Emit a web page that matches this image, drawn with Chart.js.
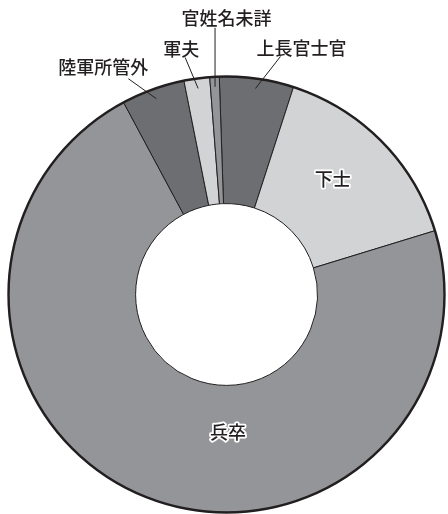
<!DOCTYPE html>
<html>
<head>
<meta charset="utf-8">
<script src="https://cdn.jsdelivr.net/npm/chart.js@4/dist/chart.umd.min.js"></script>
<style>
  html, body { margin: 0; padding: 0; background: #fff; }
  #wrap { width: 448px; height: 514px; }
</style>
</head>
<body>
<div id="wrap"><canvas id="chart"></canvas></div>
<script>
const categories = ['上長官士官', '下士', '兵卒', '陸軍所管外', '軍夫', '官姓名未詳'];
const shares = [5.5, 15.3, 71.9, 4.7, 1.9, 0.7];
const sliceColors = ['#6d6e71', '#d1d3d4', '#939598', '#6d6e71', '#d1d3d4', '#939598'];

// where each label goes: inside the ring, or outside with a leader line
const labelPlacement = [
  { outside: true, line: [25, -32], text: [46, -40] },
  { outside: false, angle: 42.6, radius: 0.72 },
  { outside: false, angle: 179.4, radius: 0.633 },
  { outside: true, line: [-28, -20], text: [-53, -32] },
  { outside: true, line: [-13, -31], text: [-17, -39] },
  { outside: true, line: [0, -59], text: [11.5, -68.5] }
];

const ink = '#231f20';
const labelFont = '500 18px "Noto Sans CJK JP", "Noto Sans", sans-serif';

const ringLabels = {
  id: 'ringLabels',
  afterDatasetsDraw(chart) {
    const ctx = chart.ctx;
    const arcs = chart.getDatasetMeta(0).data;
    const first = arcs[0].getProps(['x', 'y', 'outerRadius'], true);

    // heavier outer rim
    ctx.save();
    ctx.beginPath();
    ctx.arc(first.x, first.y, first.outerRadius, 0, Math.PI * 2);
    ctx.lineWidth = 2.4;
    ctx.strokeStyle = ink;
    ctx.stroke();
    ctx.restore();

    ctx.save();
    ctx.font = labelFont;
    ctx.textAlign = 'center';
    ctx.textBaseline = 'middle';
    ctx.lineJoin = 'round';

    arcs.forEach((arc, i) => {
      const p = arc.getProps(['x', 'y', 'startAngle', 'endAngle', 'outerRadius'], true);
      const place = labelPlacement[i];

      if (place.outside) {
        const mid = (p.startAngle + p.endAngle) / 2;
        const r = p.outerRadius - 10;
        const ax = p.x + Math.cos(mid) * r;
        const ay = p.y + Math.sin(mid) * r;
        ctx.beginPath();
        ctx.moveTo(ax, ay);
        ctx.lineTo(ax + place.line[0], ay + place.line[1]);
        ctx.lineWidth = 1;
        ctx.strokeStyle = ink;
        ctx.stroke();
        ctx.fillStyle = ink;
        ctx.fillText(categories[i], ax + place.text[0], ay + place.text[1]);
      } else {
        const a = (place.angle - 90) * Math.PI / 180;
        const r = p.outerRadius * place.radius;
        const tx = p.x + Math.cos(a) * r;
        const ty = p.y + Math.sin(a) * r;
        ctx.lineWidth = 3.5;
        ctx.strokeStyle = '#fff';
        ctx.strokeText(categories[i], tx, ty);
        ctx.fillStyle = ink;
        ctx.fillText(categories[i], tx, ty);
      }
    });
    ctx.restore();
  }
};

new Chart(document.getElementById('chart'), {
  type: 'doughnut',
  data: {
    labels: categories,
    datasets: [
      {
        data: shares,
        backgroundColor: sliceColors,
        borderColor: ink,
        borderWidth: 1
      }
    ]
  },
  options: {
    responsive: true,
    maintainAspectRatio: false,
    animation: false,
    rotation: -1.9,
    cutout: '41.7%',
    layout: {
      padding: { left: 8, right: 3, top: 76, bottom: 1 }
    },
    plugins: {
      legend: { display: false },
      tooltip: { enabled: false }
    }
  },
  plugins: [ringLabels]
});
</script>
</body>
</html>
